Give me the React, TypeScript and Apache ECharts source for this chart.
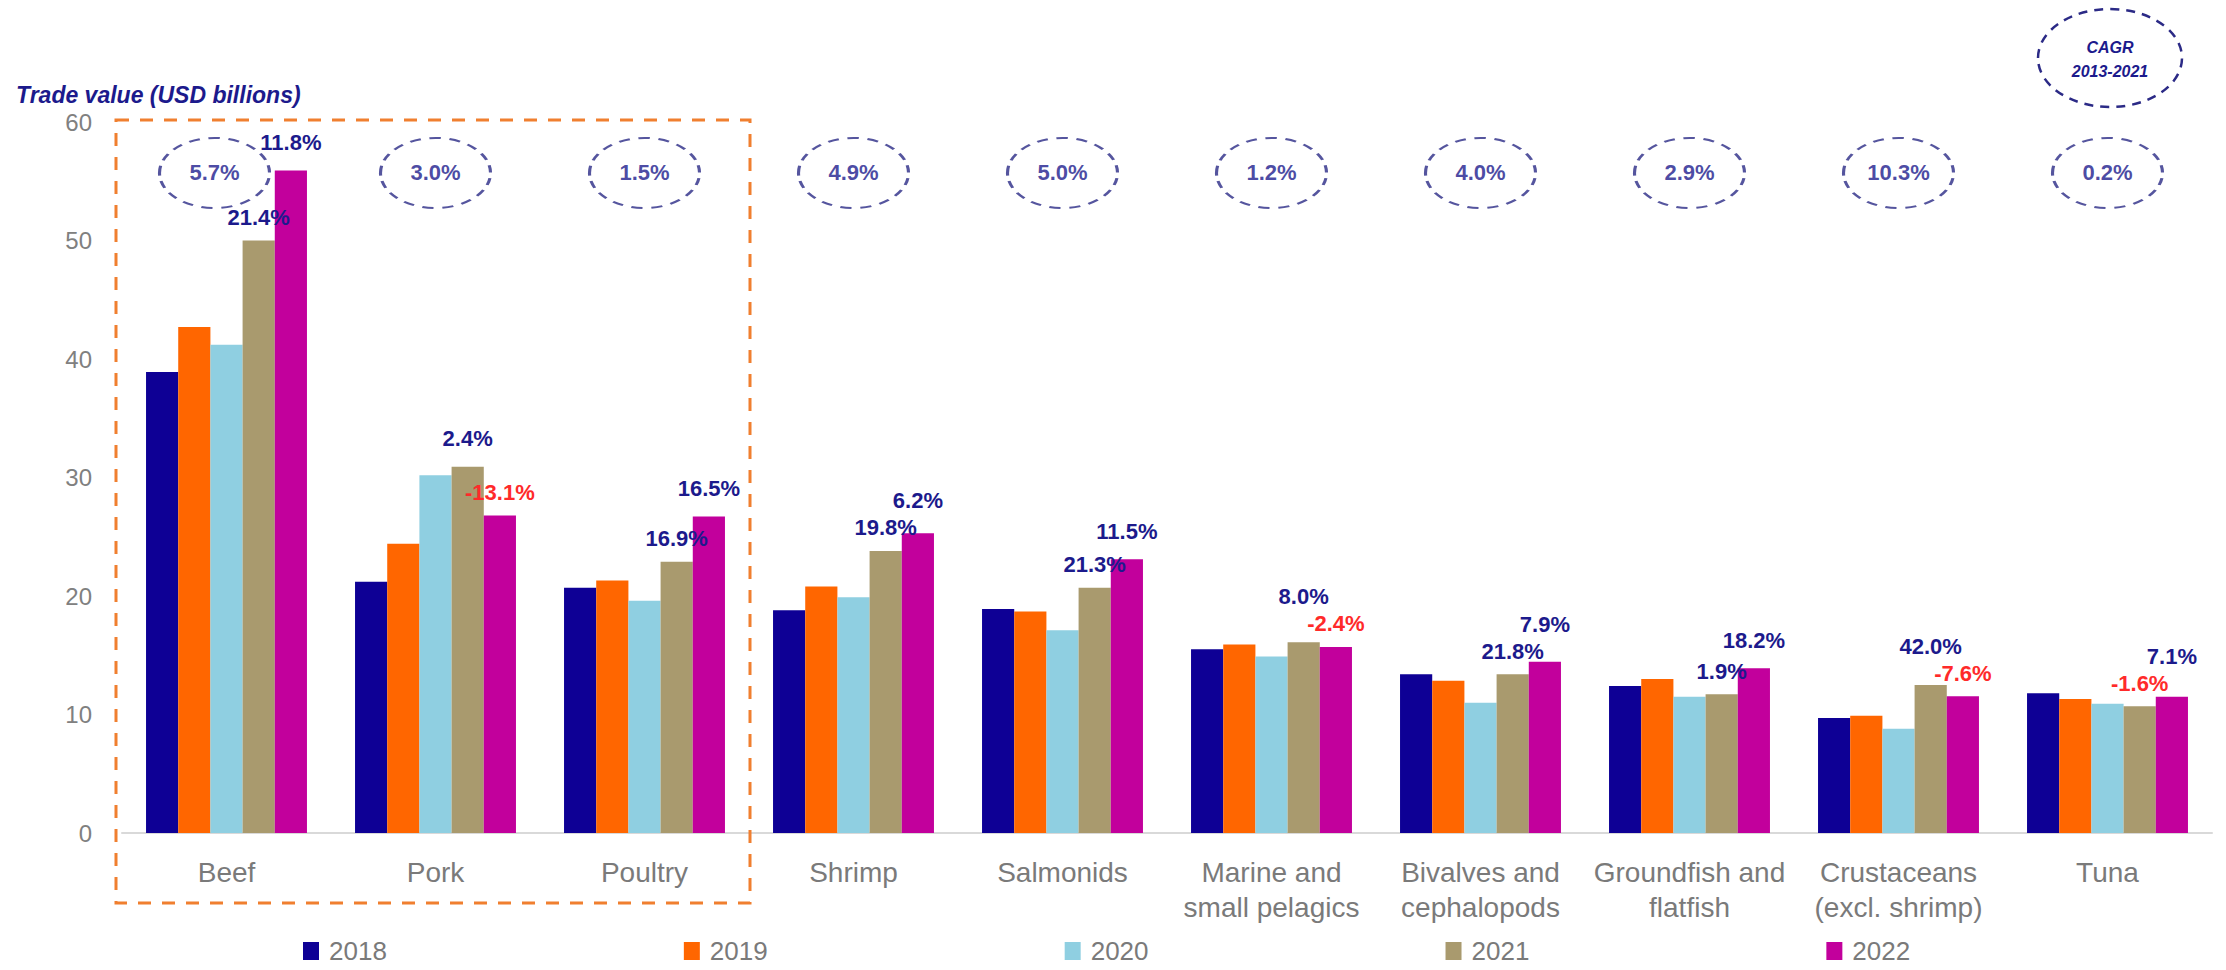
import React, { useEffect, useRef } from "react";
import * as echarts from "echarts";

const CATEGORIES = [
  "Beef",
  "Pork",
  "Poultry",
  "Shrimp",
  "Salmonids",
  "Marine and\nsmall pelagics",
  "Bivalves and\ncephalopods",
  "Groundfish and\nflatfish",
  "Crustaceans\n(excl. shrimp)",
  "Tuna",
];
const YEARS = ["2018", "2019", "2020", "2021", "2022"];
const V2018 = [38.9, 21.2, 20.7, 18.8, 18.9, 15.5, 13.4, 12.4, 9.7, 11.8];
const V2019 = [42.7, 24.4, 21.3, 20.8, 18.7, 15.9, 12.85, 13.0, 9.9, 11.3];
const V2020 = [41.2, 30.2, 19.6, 19.9, 17.1, 14.9, 11.0, 11.5, 8.8, 10.9];
const V2021 = [50.0, 30.9, 22.9, 23.8, 20.7, 16.1, 13.4, 11.7, 12.5, 10.7];
const V2022 = [55.9, 26.8, 26.7, 25.3, 23.1, 15.7, 14.45, 13.9, 11.55, 11.5];
const G2021 = ["21.4%", "2.4%", "16.9%", "19.8%", "21.3%", "8.0%", "21.8%", "1.9%", "42.0%", "-1.6%"];
const G2022 = ["11.8%", "-13.1%", "16.5%", "6.2%", "11.5%", "-2.4%", "7.9%", "18.2%", "-7.6%", "7.1%"];
const CAGR = ["5.7%", "3.0%", "1.5%", "4.9%", "5.0%", "1.2%", "4.0%", "2.9%", "10.3%", "0.2%"];
const Y_MIN = 0;
const Y_MAX = 60;
const Y_STEP = 10;

const COLORS = ["#0e0095", "#ff6600", "#8fcfe1", "#a99a6e", "#c2009c"];
const NAVY = "#1c1a8c";
const RED = "#ff2a2a";
const ELLIPSE_COLOR = "#2b2a86";
const CAGR_ROW = 55.7;
const ELLIPSE_PATH =
  "path://M0,50 C0,22.4 22.4,0 50,0 C77.6,0 100,22.4 100,50 C100,77.6 77.6,100 50,100 C22.4,100 0,77.6 0,50 Z";
const FONT = "Liberation Sans, Arial, sans-serif";

const SERIES_VALUES = [V2018, V2019, V2020, V2021, V2022];

// layout
const W = 2226;
const H = 970;
const GRID = { left: 122, right: 14, top: 122, bottom: 137 };
const PX_PER_UNIT = (H - GRID.top - GRID.bottom) / (Y_MAX - Y_MIN);
const LABEL_H = 24;

// Staggered label heights so the 2021 and 2022 growth labels never collide
function labelLift(seriesVals: number[], otherVals: number[]) {
  return seriesVals.map((v, i) => {
    const a = v * PX_PER_UNIT;
    const b = otherVals[i] * PX_PER_UNIT;
    const shortTop = Math.min(a, b);
    const tallTop = Math.max(a, b);
    const shortC = shortTop + 23;
    const tallC = Math.max(tallTop + 28, shortC + 27);
    const isShort = a < b || (a === b && seriesVals === V2021);
    return (isShort ? shortC : tallC) - a - LABEL_H / 2;
  });
}

function labeledData(vals: number[], other: number[]) {
  const lifts = labelLift(vals, other);
  return vals.map((v, i) => ({ value: v, label: { offset: [0, -lifts[i]] } }));
}

function growthLabel(list: string[]) {
  return {
    show: true,
    position: "top",
    distance: 0,
    lineHeight: LABEL_H,
    formatter: (p: any) => {
      const s = list[p.dataIndex];
      return s.startsWith("-") ? `{n|${s}}` : `{p|${s}}`;
    },
    rich: {
      p: { color: NAVY, fontSize: 22, lineHeight: LABEL_H, fontWeight: "bold", fontFamily: FONT },
      n: { color: RED, fontSize: 22, lineHeight: LABEL_H, fontWeight: "bold", fontFamily: FONT },
    },
  };
}

export default function App() {
  const ref = useRef<HTMLDivElement>(null);
  useEffect(() => {
    document.body.style.margin = "0";
    if (!ref.current) return;
    const chart = echarts.init(ref.current, undefined, { renderer: "svg" });
    const barSeries = YEARS.map((y, i) => ({
      name: y,
      type: "bar",
      data:
        i === 3
          ? labeledData(V2021, V2022)
          : i === 4
          ? labeledData(V2022, V2021)
          : SERIES_VALUES[i],
      barGap: "0%",
      barCategoryGap: "23%",
      itemStyle: { color: COLORS[i] },
      label: i === 3 ? growthLabel(G2021) : i === 4 ? growthLabel(G2022) : { show: false },
      z: 2,
    }));
    chart.setOption({
      animation: false,
      backgroundColor: "#ffffff",
      textStyle: { fontFamily: FONT },
      grid: { ...GRID, containLabel: false },
      legend: {
        data: YEARS,
        left: 298,
        top: 933,
        itemWidth: 16,
        itemHeight: 18,
        itemGap: 297,
        icon: "rect",
        textStyle: { color: "#7a7a7a", fontSize: 26, padding: [0, 0, 0, 5] },
      },
      xAxis: {
        type: "category",
        data: CATEGORIES,
        axisTick: { show: false },
        axisLine: { lineStyle: { color: "#d9d9d9", width: 2 } },
        axisLabel: {
          interval: 0,
          color: "#7a7a7a",
          fontSize: 28,
          lineHeight: 35,
          margin: 22,
        },
      },
      yAxis: {
        type: "value",
        min: Y_MIN,
        max: Y_MAX,
        interval: Y_STEP,
        splitLine: { show: false },
        axisLine: { show: false },
        axisTick: { show: false },
        axisLabel: { color: "#808080", fontSize: 24, margin: 30 },
      },
      series: [
        ...barSeries,
        {
          name: "CAGR",
          type: "scatter",
          data: CAGR.map((c, i) => ({
            value: [i, CAGR_ROW],
            symbolOffset: i === 0 ? [-12, 0] : [0, 0],
          })),
          symbol: ELLIPSE_PATH,
          symbolSize: [110, 70],
          itemStyle: {
            color: "rgba(0,0,0,0)",
            borderColor: ELLIPSE_COLOR,
            borderWidth: 2.5,
            borderType: [9, 7],
          },
          label: {
            show: true,
            position: "inside",
            formatter: (p: any) => CAGR[p.dataIndex],
            color: NAVY,
            fontSize: 22,
            fontWeight: "bold",
          },
          emphasis: { disabled: true },
          z: 3,
        },
      ],
      graphic: [
        {
          type: "text",
          left: 16,
          top: 83,
          style: {
            text: "Trade value (USD billions)",
            fill: NAVY,
            font: `italic bold 23px ${FONT}`,
          },
        },
        {
          type: "rect",
          shape: { x: 116, y: 120, width: 634, height: 783 },
          style: { fill: "none", stroke: "#f07f2f", lineWidth: 3, lineDash: [13, 11] },
          z: 1,
        },
        {
          type: "ellipse",
          shape: { cx: 2110, cy: 58, rx: 72, ry: 49 },
          style: { fill: "none", stroke: ELLIPSE_COLOR, lineWidth: 2.5, lineDash: [9, 7] },
        },
        {
          type: "text",
          x: 2110,
          y: 47,
          style: {
            text: "CAGR",
            fill: NAVY,
            align: "center",
            verticalAlign: "middle",
            font: `italic bold 16px ${FONT}`,
          },
        },
        {
          type: "text",
          x: 2110,
          y: 71,
          style: {
            text: "2013-2021",
            fill: NAVY,
            align: "center",
            verticalAlign: "middle",
            font: `italic bold 16px ${FONT}`,
          },
        },
      ],
    });
    return () => chart.dispose();
  }, []);
  return <div ref={ref} style={{ width: W, height: H }} />;
}
